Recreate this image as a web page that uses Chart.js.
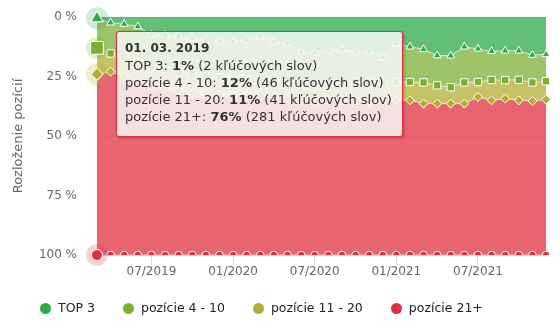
<!DOCTYPE html>
<html>
<head>
<meta charset="utf-8">
<script src="https://cdn.jsdelivr.net/npm/chart.js@4.4.1/dist/chart.umd.min.js"></script>
<style>
    body { margin: 0; background: #fff; }
    #wrap { position: relative; width: 560px; height: 330px; }
    #tip {
        position: absolute;
        box-sizing: border-box;
        width: 287px;
        height: 106px;
        padding: 8px 8px 10px 8px;
        background: rgba(247, 247, 247, 0.85);
        border: 1px solid #e0303f;
        border-radius: 3px;
        box-shadow: 1px 1px 3px rgba(0, 0, 0, 0.3);
        font-family: 'DejaVu Sans', sans-serif;
        font-size: 13px;
        line-height: 17px;
        color: #333;
        white-space: nowrap;
        pointer-events: none;
        display: none;
    }
    #tip .title { font-weight: bold; font-size: 12px; }
    #legend {
        position: absolute;
        left: 40px;
        top: 300px;
        display: flex;
        font-family: 'DejaVu Sans', sans-serif;
        font-size: 12.5px;
        line-height: 16px;
        color: #222;
        white-space: nowrap;
    }
    #legend .item { display: flex; align-items: center; margin-right: 28px; }
    #legend .dot { width: 11px; height: 11px; border-radius: 50%; margin-right: 7px; }
</style>
</head>
<body>
<div id="wrap">
    <canvas id="myChart1" width="560" height="330"></canvas>
    <div id="tip"></div>
    <div id="legend"></div>
</div>
<script>
const months = ['03/2019', '04/2019', '05/2019', '06/2019', '07/2019', '08/2019', '09/2019', '10/2019', '11/2019', '12/2019',
    '01/2020', '02/2020', '03/2020', '04/2020', '05/2020', '06/2020', '07/2020', '08/2020', '09/2020', '10/2020', '11/2020', '12/2020',
    '01/2021', '02/2021', '03/2021', '04/2021', '05/2021', '06/2021', '07/2021', '08/2021', '09/2021', '10/2021', '11/2021', '12/2021'];

// podiel kľúčových slov v %
const top3 = [0.54, 2.4, 3, 4, 7.5, 7.5, 8, 9, 9.5, 10, 10.4, 9.7, 8, 10.4, 11, 14.6, 15, 14, 13.5, 14.6,
    14.5, 17, 11, 12.5, 13.6, 16.2, 16.3, 12.5, 13.4, 14.4, 14.2, 14.2, 16, 15.7];
const pos4to10 = [12.43, 12.9, 14, 15, 13.5, 14.5, 15, 15, 15.5, 15.5, 15.6, 16.3, 17.5, 15.6, 15.5, 12.9, 13, 13.5, 14, 12.4,
    13, 10.5, 16.3, 14.8, 13.9, 12.5, 13.2, 15, 13.9, 12.1, 12.3, 12.2, 11.5, 11.3];
const pos11to20 = [11.08, 7.7, 8, 8, 8, 8, 8, 8, 8, 7.5, 7.5, 7.5, 7.5, 7.5, 7.5, 7.5, 7.5, 7.5, 7.5, 8,
    8, 8, 7.7, 7.7, 8.9, 7.7, 6.9, 8.9, 6.3, 8.5, 7.8, 8.6, 7.8, 7.7];
const pos21plus = [75.95, 77, 75, 73, 71, 70, 69, 68, 67, 67, 66.5, 66.5, 67, 66.5, 66, 65, 64.5, 65, 65, 65,
    64.5, 64.5, 65, 65, 63.6, 63.6, 63.6, 63.6, 66.4, 65, 65.7, 65, 64.7, 65.3];

const seriesNames = ['TOP 3', 'pozície 4 - 10', 'pozície 11 - 20', 'pozície 21+'];
const yTicks = [0, 25, 50, 75, 100];
const keywordsTotal = 370;  // počet kľúčových slov v zobrazenom dni

const colors = ['#2eaa4a', '#7cb035', '#b3ae33', '#e0303f'];
const pointStyles = ['triangle', 'rect', 'rectRot', 'circle'];
const pointSizes = [4.5, 5.2, 4.5, 3.8];
const hoverSizes = [7, 9, 6, 5.5];

function alpha(hex, a) {
    const n = parseInt(hex.slice(1), 16);
    return `rgba(${n >> 16}, ${(n >> 8) & 255}, ${n & 255}, ${a})`;
}

function isShownTick(i) {
    const l = months[i];
    return !!l && (l.startsWith('01/') || l.startsWith('07/'));
}

// halo okolo aktívnych bodov
const haloPlugin = {
    id: 'halo',
    afterDatasetsDraw(chart) {
        const ctx = chart.ctx;
        const active = chart.getActiveElements();
        active.forEach(a => {
            ctx.save();
            ctx.beginPath();
            ctx.arc(a.element.x, a.element.y, 11, 0, Math.PI * 2);
            ctx.fillStyle = alpha(colors[a.datasetIndex], 0.22);
            ctx.fill();
            ctx.restore();
        });
        active.forEach(a => a.element.draw(ctx));
    }
};

// HTML legenda pod grafom
const htmlLegend = {
    id: 'htmlLegend',
    afterUpdate(chart) {
        const box = document.getElementById('legend');
        box.innerHTML = '';
        chart.data.datasets.forEach((ds, i) => {
            const item = document.createElement('div');
            item.className = 'item';
            const dot = document.createElement('span');
            dot.className = 'dot';
            dot.style.background = colors[i];
            const txt = document.createElement('span');
            txt.textContent = ds.label;
            item.appendChild(dot);
            item.appendChild(txt);
            box.appendChild(item);
        });
    }
};

function externalTooltip(context) {
    const tip = document.getElementById('tip');
    const tooltip = context.tooltip;
    if (tooltip.opacity === 0 || !tooltip.dataPoints) {
        tip.style.display = 'none';
        return;
    }
    const idx = tooltip.dataPoints[0].dataIndex;
    const [mm, yyyy] = months[idx].split('/');
    let html = `<div class="title">01. ${mm}. ${yyyy}</div>`;
    tooltip.dataPoints.forEach(dp => {
        const v = dp.raw;
        const cnt = Math.round(v * keywordsTotal / 100);
        html += `<div>${seriesNames[dp.datasetIndex]}: <b>${Math.round(v)}%</b> (${cnt} kľúčových slov)</div>`;
    });
    tip.innerHTML = html;
    tip.style.display = 'block';
    tip.style.left = (tooltip.dataPoints[0].element.x + 19) + 'px';
    tip.style.top = (context.chart.chartArea.top + 14) + 'px';
}

Chart.defaults.font.family = "'DejaVu Sans', sans-serif";

const seriesData = [top3, pos4to10, pos11to20, pos21plus];
const ctx = document.getElementById('myChart1').getContext('2d');
const myChart1 = new Chart(ctx, {
    type: 'line',
    data: {
        labels: months,
        datasets: seriesData.map((d, i) => ({
            label: seriesNames[i],
            data: d,
            fill: i === 0 ? 'origin' : '-1',
            backgroundColor: alpha(colors[i], 0.75),
            borderColor: 'rgba(255, 255, 255, 0.6)',
            borderWidth: 1,
            tension: 0,
            pointStyle: pointStyles[i],
            pointRadius: pointSizes[i],
            pointHoverRadius: hoverSizes[i],
            pointBackgroundColor: colors[i],
            pointHoverBackgroundColor: colors[i],
            pointBorderColor: '#fff',
            pointHoverBorderColor: '#fff',
            pointBorderWidth: 1,
            pointHoverBorderWidth: 1
        }))
    },
    options: {
        responsive: false,
        animation: false,
        layout: { padding: { left: 9, right: 14, top: 17, bottom: 51 } },
        interaction: { mode: 'index', intersect: false },
        scales: {
            x: {
                type: 'category',
                offset: false,
                afterFit: scale => { scale.height = 24; },
                grid: {
                    drawOnChartArea: false,
                    tickLength: 10,
                    tickColor: c => isShownTick(c.index) ? '#ccd6eb' : 'rgba(0,0,0,0)'
                },
                border: { color: '#ccd6eb' },
                ticks: {
                    autoSkip: false,
                    maxRotation: 0,
                    padding: 0,
                    color: '#666',
                    font: { size: 12 },
                    callback: (v, i) => isShownTick(i) ? months[i] : ''
                }
            },
            y: {
                stacked: true,
                reverse: true,
                min: 0,
                max: 100,
                afterBuildTicks: scale => { scale.ticks = yTicks.map(v => ({ value: v })); },
                afterFit: scale => { scale.width = 88; },
                grid: { color: '#e6e6e6', drawTicks: true, tickLength: 20, tickColor: 'rgba(0,0,0,0)' },
                border: { display: false },
                ticks: {
                    padding: 0,
                    color: '#666',
                    font: { size: 12 },
                    callback: v => v + ' %'
                },
                title: {
                    display: true,
                    text: 'Rozloženie pozícií',
                    color: '#666',
                    font: { size: 13 },
                    padding: { top: 2, bottom: 0 }
                }
            }
        },
        plugins: {
            legend: { display: false },
            tooltip: {
                enabled: false,
                external: externalTooltip
            }
        }
    },
    plugins: [haloPlugin, htmlLegend]
});

const active = [0, 1, 2, 3].map(d => ({ datasetIndex: d, index: 0 }));
myChart1.setActiveElements(active);
myChart1.tooltip.setActiveElements(active, { x: 97, y: 100 });
myChart1.update();
</script>
</body>
</html>
